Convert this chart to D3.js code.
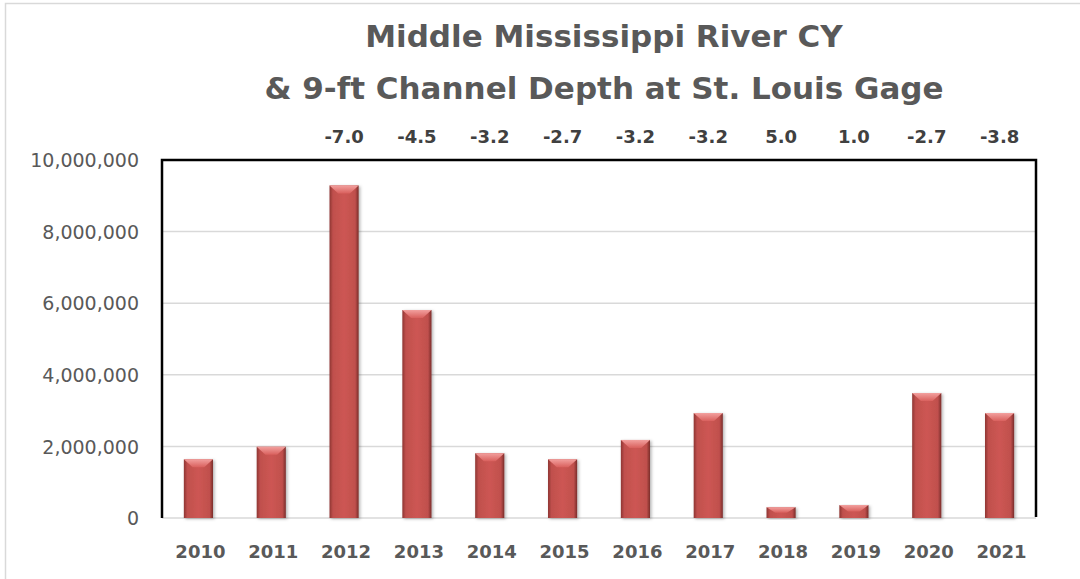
<!DOCTYPE html>
<html><head><meta charset="utf-8">
<script src="https://cdn.jsdelivr.net/npm/d3@7"></script>
<style>body{margin:0;background:#fff}svg{display:block}</style>
</head><body><svg id="c" width="1080" height="579"></svg>
<script>
const years = ["2010","2011","2012","2013","2014","2015","2016","2017","2018","2019","2020","2021"];
const cy = [1640000,1990000,9290000,5810000,1810000,1640000,2180000,2930000,300000,360000,3490000,2930000];
const depth = [null,null,"-7.0","-4.5","-3.2","-2.7","-3.2","-3.2","5.0","1.0","-2.7","-3.8"];
const yTicks = [0,2000000,4000000,6000000,8000000,10000000];
const titleLines = ["Middle Mississippi River CY","& 9-ft Channel Depth at St. Louis Gage"];

const svg = d3.select("#c");
const font = "'DejaVu Sans', sans-serif";
const L=162,R=1036,T=160,B=518;
const x = d3.scaleBand().domain(years).range([L,R]).paddingInner(0.6).paddingOuter(0.3);
const y = d3.scaleLinear().domain([0,10000000]).range([B,T]);

svg.append("rect").attr("x",5.5).attr("y",3.5).attr("width",1080).attr("height",580).attr("fill","none").attr("stroke","#d9d9d9").attr("stroke-width",1.5);

const defs = svg.append("defs");
const g1 = defs.append("linearGradient").attr("id","bar").attr("x1","0").attr("x2","1").attr("y1","0").attr("y2","0");
[[0,"#8e3532"],[0.12,"#c0504d"],[0.5,"#cd5653"],[0.88,"#c0504d"],[1,"#7a2d2a"]].forEach(s=>g1.append("stop").attr("offset",s[0]).attr("stop-color",s[1]));
const g2 = defs.append("linearGradient").attr("id","bev").attr("x1","0").attr("x2","0").attr("y1","0").attr("y2","1");
[[0,"#f2a09e"],[1,"#d9605d"]].forEach(s=>g2.append("stop").attr("offset",s[0]).attr("stop-color",s[1]));
const fl = defs.append("filter").attr("id","sh").attr("x","-20%").attr("y","-5%").attr("width","150%").attr("height","115%");
fl.append("feDropShadow").attr("dx",1.5).attr("dy",1).attr("stdDeviation",1.5).attr("flood-color","#000").attr("flood-opacity",0.3);

// gridlines
svg.append("g").selectAll("line").data(yTicks.slice(1,5)).join("line")
  .attr("x1",L).attr("x2",R).attr("y1",d=>y(d)).attr("y2",d=>y(d))
  .attr("stroke","#d9d9d9").attr("stroke-width",1.5);
svg.append("line").attr("x1",L).attr("x2",R).attr("y1",B).attr("y2",B).attr("stroke","#d9d9d9").attr("stroke-width",1.5);

// y axis labels
const ya = svg.append("g").attr("transform",`translate(${L-20},0)`)
  .call(d3.axisLeft(y).tickValues(yTicks).tickFormat(d3.format(",")).tickSize(0));
ya.select(".domain").remove();
ya.selectAll("text").attr("font-family",font).attr("font-size",19).attr("fill","#595959").attr("dy","0.35em");

// bars
const bars = svg.append("g").selectAll("g").data(years).join("g");
bars.append("rect").attr("x",d=>x(d)).attr("width",x.bandwidth())
  .attr("y",(d,i)=>y(cy[i])).attr("height",(d,i)=>B-y(cy[i]))
  .attr("fill","url(#bar)").attr("filter","url(#sh)");
bars.append("path").attr("d",(d,i)=>{
  const x0=x(d),w=x.bandwidth(),t=y(cy[i]),h=Math.min(8,(B-t)/2);
  return `M${x0},${t}L${x0+w},${t}L${x0+w*0.7},${t+h}L${x0+w*0.3},${t+h}Z`;
}).attr("fill","url(#bev)");

// plot border (left, top, right)
svg.append("path").attr("d",`M${L},${B}L${L},${T}L${R},${T}L${R},${B-1}`)
  .attr("fill","none").attr("stroke","#000").attr("stroke-width",2.5);

// x axis labels
const xa = svg.append("g").attr("transform",`translate(2,${B+31})`)
  .call(d3.axisBottom(x).tickSize(0));
xa.select(".domain").remove();
xa.selectAll("text").attr("font-family",font).attr("font-size",18).attr("font-weight","bold").attr("fill","#595959").attr("dy","0.35em");

// depth labels
svg.append("g").selectAll("text").data(years.filter((d,i)=>depth[i]!==null)).join("text")
  .attr("x",d=>x(d)+x.bandwidth()/2).attr("y",137).attr("dy","0.35em")
  .attr("text-anchor","middle").attr("font-family",font).attr("font-size",18).attr("font-weight","bold").attr("fill","#404040")
  .text(d=>depth[years.indexOf(d)]);

// title
svg.append("g").selectAll("text").data(titleLines).join("text")
  .attr("x",604).attr("y",(d,i)=>36+i*52).attr("dy","0.35em").attr("text-anchor","middle")
  .attr("font-family",font).attr("font-size",31).attr("font-weight","bold").attr("fill","#595959").text(d=>d);
</script></body></html>
